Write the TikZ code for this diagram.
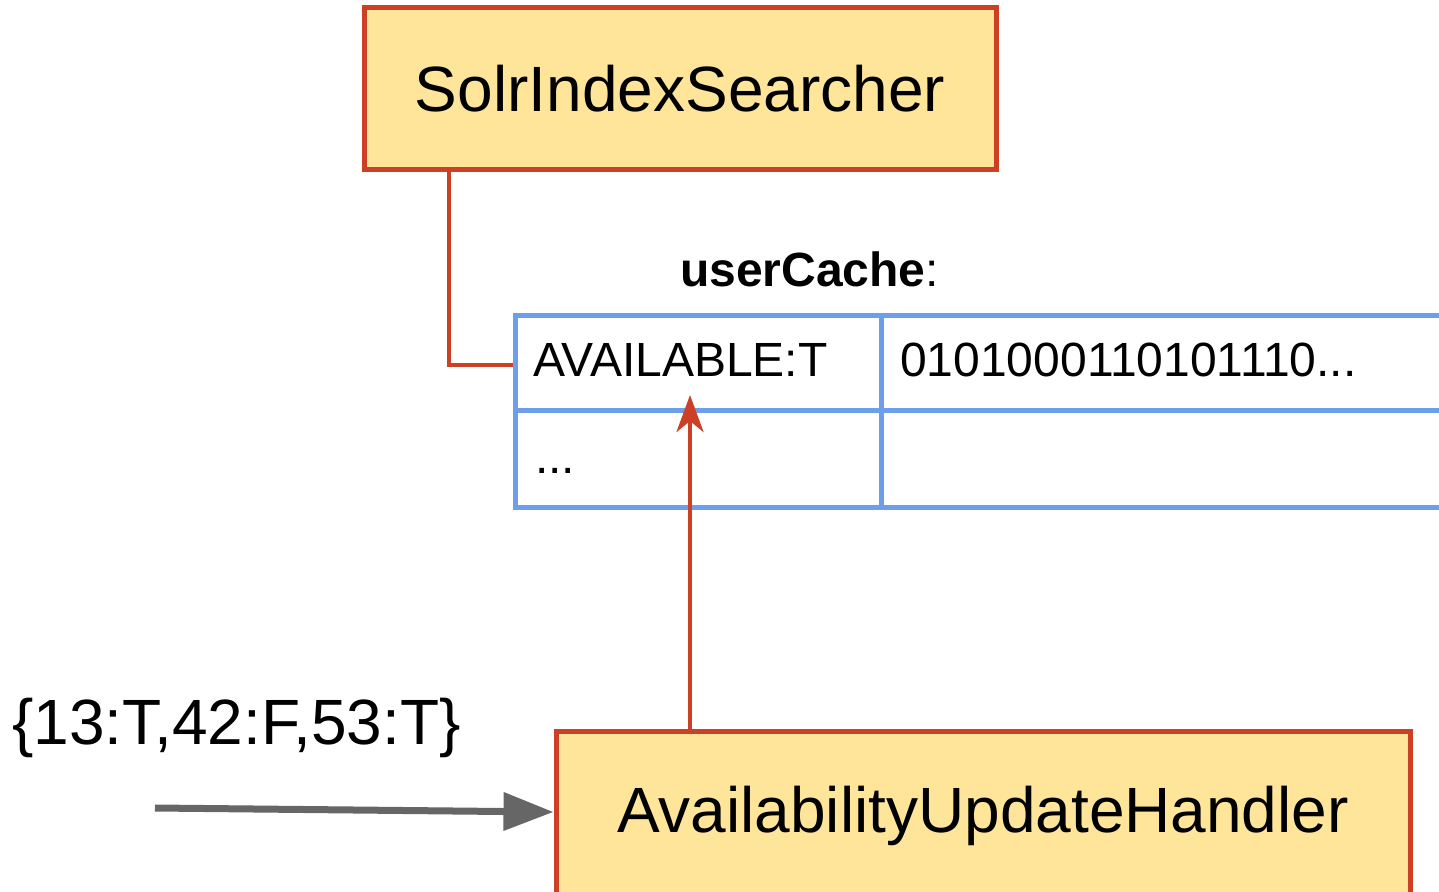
\documentclass[tikz,border=0pt]{standalone}
\usepackage{fontspec}
\setmainfont{Liberation Sans}
\usetikzlibrary{arrows.meta}
\definecolor{boxfill}{HTML}{FFE599}
\definecolor{boxred}{HTML}{CC4125}
\definecolor{cellblue}{HTML}{6D9EEB}
\definecolor{arrowgray}{HTML}{666666}
\tikzset{
  classbox/.style={draw=boxred, fill=boxfill, line width=5pt, rectangle, inner sep=0pt,
    font=\fontsize{64}{76}\selectfont},
  cell/.style={draw=cellblue, line width=5pt, rectangle, inner sep=0pt},
  celltext/.style={anchor=base west, inner sep=0pt, font=\fontsize{48}{58}\selectfont},
  redline/.style={draw=boxred, line width=4.5pt},
  grayarrow/.style={draw=arrowgray, line width=7pt, -{Triangle[length=50pt,width=37pt]}}
}
\begin{document}
\begin{tikzpicture}[x=1pt,y=-1pt]
\useasboundingbox (0,0) rectangle (1439,891);
\clip (0,0) rectangle (1439,891);
% table cells
\node[cell, minimum width=366pt, minimum height=95pt] (cellA) at (698,362.5) {};
\node[cell, minimum width=564pt, minimum height=95pt] (cellB) at (1163,362.5) {};
\node[cell, minimum width=366pt, minimum height=97pt] (cellC) at (698,458.5) {};
\node[cell, minimum width=564pt, minimum height=97pt] (cellD) at (1163,458.5) {};
\node[celltext] (key) at (533,376) {AVAILABLE:T};
\node[celltext] (val) at (900,376) {0101000110101110...};
\node[celltext] (more) at (535,473) {...};
\node[celltext] (cachelabel) at (680,286) {\textbf{userCache}:};
% class boxes
\node[classbox, minimum width=632pt, minimum height=161pt] (solr) at (680,88.5) {SolrIndexSearcher};
\node[classbox, minimum width=854pt, minimum height=170pt] (handler) at (983,816) {AvailabilityUpdateHandler};
% input label
\node[anchor=base west, inner sep=0pt, font=\fontsize{64}{76}\selectfont] (input) at (12,744) {\{13:T,42:F,53:T\}};
% connectors
\draw[redline] ([xshift=-231pt]solr.south) |- ([yshift=-2.5pt]cellA.west);
\coordinate (tip) at (690,395);
\draw[redline, -{Stealth[length=37pt,width=27pt,inset=11pt]}] (handler.north -| tip) -- (tip);
\coordinate (src) at (155,808);
\draw[grayarrow] (src) -- ([yshift=4pt]handler.west);
\end{tikzpicture}
\end{document}
